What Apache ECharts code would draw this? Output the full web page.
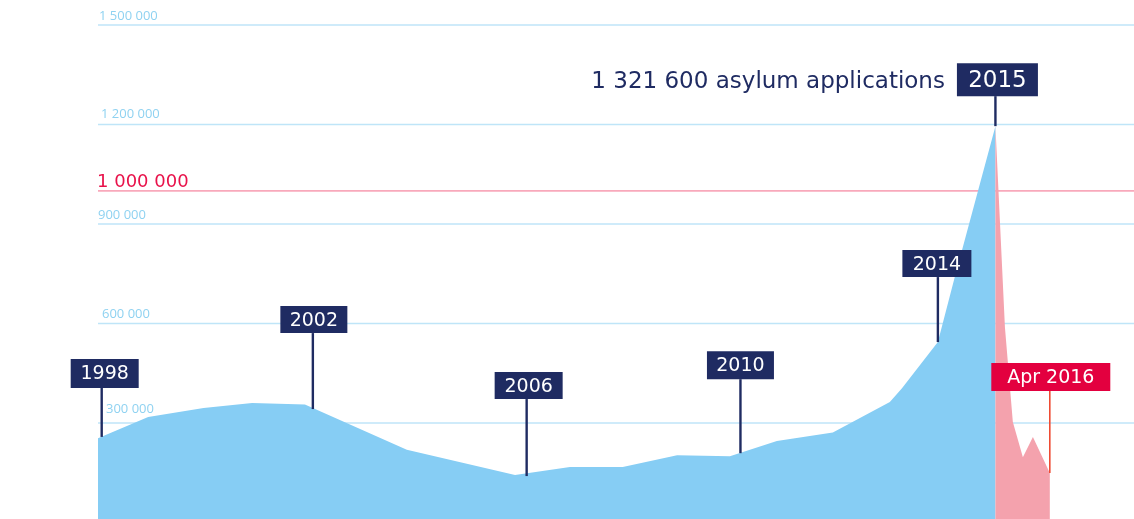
<!DOCTYPE html>
<html>
<head>
<meta charset="utf-8">
<script src="https://cdn.jsdelivr.net/npm/echarts@6/dist/echarts.min.js"></script>
<style>
  html, body { margin: 0; padding: 0; background: #ffffff; }
  #chart { width: 1134px; height: 519px; }
</style>
</head>
<body>
<div id="chart"></div>
<script>
// ---- data ----
const blueYears = [1998, 1998.95, 2000, 2000.92, 2001.92, 2003.85, 2005.9, 2006.94, 2007.94, 2008.97, 2009.97, 2010.86, 2011.92, 2013, 2013.23, 2013.91, 2014.23, 2015];
const blueValues = [254000, 318000, 345000, 360000, 356000, 219000, 143000, 167000, 167000, 203000, 200000, 246000, 271000, 363000, 405000, 544000, 740000, 1195000];

const redYears = [2015, 2015.18, 2015.33, 2015.52, 2015.71, 2016.03];
const redValues = [1195000, 589000, 303000, 197000, 258000, 149000];

const markerLabels = ['1998', '2002', '2006', '2010', '2014', '2015', 'Apr 2016'];
const markerYears = [1998.07, 2002.07, 2006.12, 2010.17, 2013.91, 2015, 2016.03];
const markerValues = [258000, 342000, 140000, 209000, 544000, 1195000, 149000];
const peakNote = '1 321 600 asylum applications';

const gridValues = [300000, 600000, 900000, 1200000, 1500000];
const gridLabels = ['300 000', '600 000', '900 000', '1 200 000', '1 500 000'];
const thresholdValue = 1000000;
const thresholdLabel = '1 000 000';

// ---- layout / style (not data) ----
const NAVY = '#1f2b62';
const RED = '#e3003f';
const boxLayout = [
  { w: 68, h: 29, lift: 49, shift: 3, font: 19 },
  { w: 67, h: 27, lift: 76, shift: 1, font: 19 },
  { w: 68, h: 27, lift: 77, shift: 2, font: 19 },
  { w: 67, h: 28, lift: 74, shift: 0, font: 19 },
  { w: 69, h: 27, lift: 65, shift: -1, font: 19 },
  { w: 81, h: 33, lift: 30, shift: 2, font: 23 },
  { w: 119, h: 28, lift: 82, shift: 1, font: 19 }
];
const gridLabelLayout = [
  { dx: 8, lift: 14 },
  { dx: 4, lift: 9 },
  { dx: 0, lift: 8.5 },
  { dx: 3, lift: 10 },
  { dx: 1, lift: 9 }
];

const blueData = blueYears.map((y, i) => [y, blueValues[i]]);
const redData = redYears.map((y, i) => [y, redValues[i]]);
const markerData = markerYears.map((y, i) => [y, markerValues[i], i]);
const gridData = gridValues.map((v, i) => [1998, v, i]).concat([[1998, thresholdValue, -1]]);

const chart = echarts.init(document.getElementById('chart'), null, { renderer: 'canvas' });

const option = {
  animation: false,
  backgroundColor: '#ffffff',
  grid: { left: 98, right: 0, top: 25, bottom: 0 },
  xAxis: {
    type: 'value', min: 1998, max: 2017.625, show: false,
    splitLine: { show: false }
  },
  yAxis: {
    type: 'value', min: 10550, max: 1500000, show: false,
    splitLine: { show: false }
  },
  series: [
    {
      // gridlines and their labels, drawn beneath the areas
      type: 'custom',
      z: 1,
      silent: true,
      clip: false,
      data: gridData,
      renderItem: function (params, api) {
        const cs = params.coordSys;
        const idx = api.value(2);
        const y = api.coord([1998, api.value(1)])[1];
        const isThreshold = idx < 0;
        const children = [{
          type: 'line',
          shape: { x1: cs.x, y1: y, x2: cs.x + cs.width, y2: y },
          style: { stroke: isThreshold ? '#f8a9bb' : '#bfe5f8', lineWidth: 1.6 }
        }];
        if (isThreshold) {
          children.push({
            type: 'text',
            style: {
              text: thresholdLabel, x: cs.x - 1, y: y - 8.5,
              fill: '#e8124a', font: '18px "DejaVu Sans"',
              align: 'left', verticalAlign: 'middle'
            }
          });
        } else {
          const L = gridLabelLayout[idx];
          children.push({
            type: 'text',
            style: {
              text: gridLabels[idx], x: cs.x + L.dx, y: y - L.lift,
              fill: '#8fd2f1', font: '13px "Open Sans"',
              align: 'left', verticalAlign: 'middle'
            }
          });
        }
        return { type: 'group', children: children };
      }
    },
    {
      type: 'line',
      z: 2,
      data: blueData,
      symbol: 'none',
      silent: true,
      lineStyle: { width: 0, color: '#86cdf4' },
      areaStyle: { color: '#86cdf4', opacity: 1 }
    },
    {
      type: 'line',
      z: 2,
      data: redData,
      symbol: 'none',
      silent: true,
      lineStyle: { width: 0, color: '#f4a2ad' },
      areaStyle: { color: '#f4a2ad', opacity: 1 }
    },
    {
      // callout markers
      type: 'custom',
      z: 5,
      silent: true,
      clip: false,
      data: markerData,
      renderItem: function (params, api) {
        const i = api.value(2);
        const L = boxLayout[i];
        const p = api.coord([api.value(0), api.value(1)]);
        const isRed = markerLabels[i].indexOf('Apr') === 0;
        const top = p[1] - L.lift - L.h;
        const cx = p[0] + L.shift;
        const children = [
          {
            type: 'line',
            shape: { x1: p[0], y1: p[1], x2: p[0], y2: p[1] - L.lift },
            style: { stroke: isRed ? '#ef4b33' : NAVY, lineWidth: isRed ? 1.6 : 2.4 }
          },
          {
            type: 'rect',
            shape: { x: cx - L.w / 2, y: top, width: L.w, height: L.h },
            style: { fill: isRed ? RED : NAVY }
          },
          {
            type: 'text',
            style: {
              text: markerLabels[i], x: cx, y: top + L.h / 2 + 1,
              fill: '#ffffff', font: L.font + 'px "DejaVu Sans"',
              align: 'center', verticalAlign: 'middle'
            }
          }
        ];
        if (markerLabels[i] === '2015') {
          children.push({
            type: 'text',
            style: {
              text: peakNote, x: cx - L.w / 2 - 12, y: top + L.h / 2 + 2,
              fill: NAVY, font: '23px "DejaVu Sans"',
              align: 'right', verticalAlign: 'middle'
            }
          });
        }
        return { type: 'group', children: children };
      }
    }
  ]
};

chart.setOption(option);
</script>
</body>
</html>
